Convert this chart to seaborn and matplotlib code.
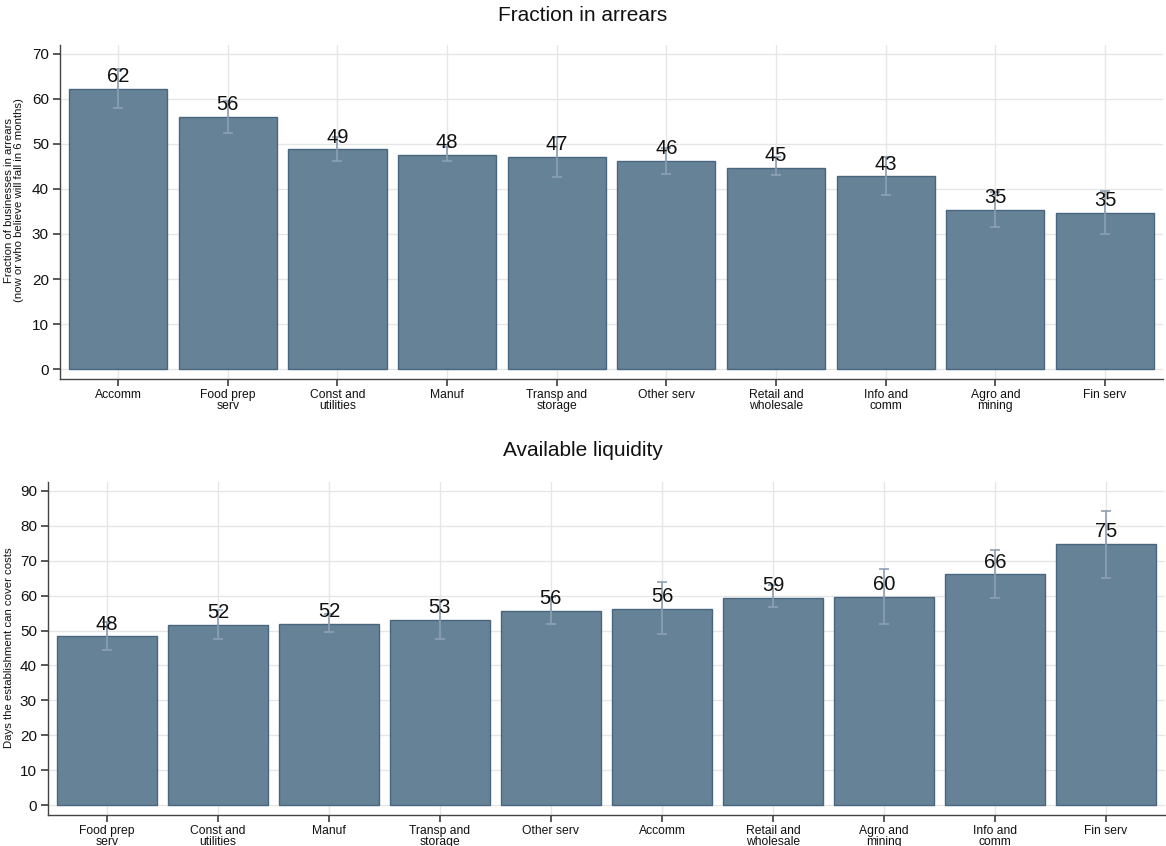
import matplotlib
matplotlib.use("Agg")
import matplotlib.pyplot as plt
import seaborn as sns
import numpy as np

# Fraction of businesses in arrears, by sector (percent)
arrears_sectors = ["Accomm", "Food prep\nserv", "Const and\nutilities", "Manuf",
                   "Transp and\nstorage", "Other serv", "Retail and\nwholesale",
                   "Info and\ncomm", "Agro and\nmining", "Fin serv"]
arrears_mean = [62.2, 56.0, 48.8, 47.6, 47.1, 46.2, 44.7, 42.8, 35.3, 34.7]
arrears_low = [58.0, 52.4, 46.1, 46.1, 42.7, 43.3, 43.0, 38.7, 31.5, 29.9]
arrears_high = [66.7, 59.6, 51.6, 49.3, 51.5, 49.1, 47.0, 47.2, 39.3, 39.5]

# Days the establishment can cover costs, by sector
liquidity_sectors = ["Food prep\nserv", "Const and\nutilities", "Manuf",
                     "Transp and\nstorage", "Other serv", "Accomm",
                     "Retail and\nwholesale", "Agro and\nmining",
                     "Info and\ncomm", "Fin serv"]
liquidity_mean = [48.3, 51.7, 51.9, 53.1, 55.7, 56.3, 59.4, 59.6, 66.1, 74.7]
liquidity_low = [44.4, 47.5, 49.7, 47.6, 51.8, 48.9, 56.8, 51.8, 59.2, 65.0]
liquidity_high = [52.5, 55.9, 54.7, 58.7, 59.7, 64.0, 63.0, 67.5, 73.1, 84.3]

BAR = "#658296"
EDGE = "#48667f"
ERR = "#8c9fb2"
GRID = "#e6e6e6"
SPINE = "#444444"
TEXT = "#111111"

sns.set_theme(style="whitegrid", rc={
    "grid.color": GRID, "grid.linewidth": 1.0,
    "axes.edgecolor": SPINE, "axes.linewidth": 1.0,
    "xtick.bottom": True, "ytick.left": True,
    "xtick.major.size": 5, "ytick.major.size": 5,
    "xtick.color": SPINE, "ytick.color": SPINE,
    "xtick.labelcolor": TEXT, "ytick.labelcolor": TEXT,
    "text.color": TEXT,
})
plt.rcParams["font.family"] = ["Liberation Sans", "DejaVu Sans"]

fig = plt.figure(figsize=(11.66, 8.46), dpi=100)
ax1 = fig.add_axes([0.0515, 0.552, 0.946, 0.395])
ax2 = fig.add_axes([0.0412, 0.0366, 0.9578, 0.394])


def draw_panel(ax, cats, mean, low, high, ylim, yticks):
    sns.barplot(x=cats, y=mean, color=BAR, saturation=1, width=0.895,
                edgecolor=EDGE, linewidth=1.0, errorbar=None, ax=ax)
    pos = np.arange(len(cats))
    m = np.asarray(mean)
    yerr = [m - np.asarray(low), np.asarray(high) - m]
    ax.errorbar(pos, m, yerr=yerr, fmt="none", ecolor=ERR, elinewidth=1.2,
                capsize=3.5, capthick=1.2, zorder=3)
    ax.bar_label(ax.containers[0], labels=[f"{v:.0f}" for v in mean],
                 padding=2, fontsize=14.5, color=TEXT, zorder=4)
    ax.set_xlim(-0.53, len(cats) - 0.47)
    ax.set_ylim(*ylim)
    ax.set_yticks(yticks)
    ax.tick_params(axis="y", labelsize=11, pad=3)
    ax.tick_params(axis="x", labelsize=8.7, pad=2)
    for lbl in ax.get_xticklabels():
        lbl.set_linespacing(0.88)
    ax.grid(True, axis="both")
    ax.set_axisbelow(True)
    for s in ("top", "right"):
        ax.spines[s].set_visible(False)
    ax.set_xlabel("")


draw_panel(ax1, arrears_sectors, arrears_mean, arrears_low, arrears_high,
           (-2.2, 72.0), range(0, 71, 10))
draw_panel(ax2, liquidity_sectors, liquidity_mean, liquidity_low, liquidity_high,
           (-2.8, 92.6), range(0, 91, 10))

fig.text(0.5, 0.982, "Fraction in arrears", ha="center", va="center", fontsize=15)
fig.text(0.5, 0.467, "Available liquidity", ha="center", va="center", fontsize=15)

fig.text(0.012, 0.763,
         "Fraction of businesses in arrears\n(now or who believe will fall in 6 months)",
         rotation=90, ha="center", va="center", fontsize=8.2, linespacing=0.95)
fig.text(0.008, 0.234, "Days the establishment can cover costs",
         rotation=90, ha="center", va="center", fontsize=8.2)

fig.savefig("out.png", dpi=100)
